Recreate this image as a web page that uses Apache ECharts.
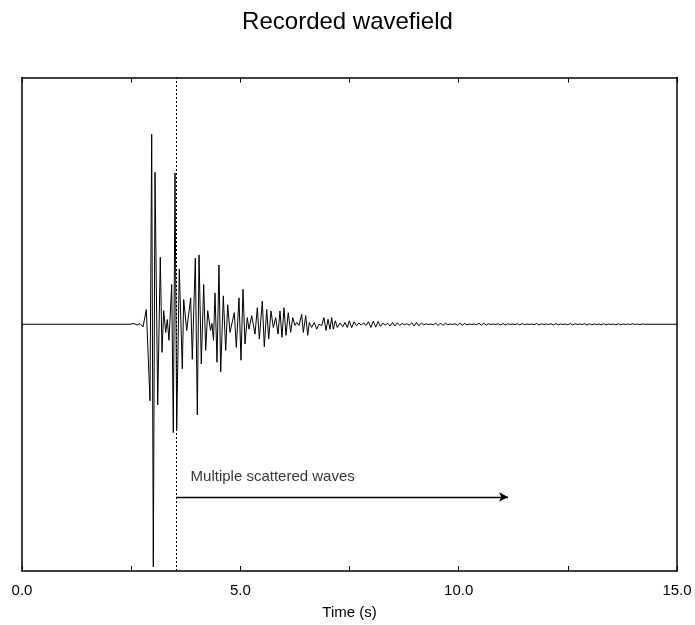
<!DOCTYPE html>
<html><head><meta charset="utf-8">
<script src="https://cdn.jsdelivr.net/npm/echarts@6/dist/echarts.min.js"></script>
<style>html,body{margin:0;padding:0;background:#fff}#c{width:695px;height:625px}</style>
</head><body><div id="c"></div><script>
const titleText = 'Recorded wavefield';
const xName = 'Time (s)';
const xMajorTicks = [0, 5, 10, 15];

// main arrival (time in s, normalised amplitude)
const arrivalTime = [0, 2.473, 2.565, 2.634, 2.702, 2.771, 2.847, 2.931, 2.970, 3.007,
  3.046, 3.108, 3.167, 3.206, 3.245, 3.291, 3.327, 3.366, 3.428, 3.465,
  3.504, 3.543, 3.602, 3.671, 3.703, 3.772, 3.863, 3.900, 3.969, 4.015,
  4.054, 4.106, 4.161, 4.207, 4.253, 4.317, 4.351, 4.385, 4.420, 4.466,
  4.511, 4.550, 4.610, 4.665, 4.711, 4.763, 4.862, 4.908, 4.969, 5.015,
  5.061, 5.107, 5.159, 5.198, 5.260, 5.336, 5.389, 5.435, 5.503, 5.549,
  5.604, 5.650, 5.702, 5.755, 5.810, 5.863, 5.908, 5.954, 6.000, 6.046,
  6.098, 6.153, 6.199, 6.252, 6.291, 6.343, 6.405, 6.442, 6.497, 6.543,
  6.579, 6.634, 6.694, 6.749, 6.801, 6.863, 6.915, 6.961, 7.008, 7.053,
  7.092, 7.129, 7.175, 7.221, 7.282, 7.344, 7.397, 7.450, 7.495];
const arrivalAmp = [0, 0, 0.003, -0.003, 0.003, -0.011, 0.059, -0.310, 0.770, -0.984,
  0.616, -0.327, 0.271, -0.114, 0.055, -0.033, 0.019, -0.065, 0.161, -0.439,
  0.613, -0.427, 0.224, -0.181, 0.100, -0.025, 0.107, -0.142, 0.268, -0.368,
  0.281, -0.161, 0.161, -0.106, 0.055, -0.025, 0.003, -0.065, 0.127, -0.154,
  0.240, -0.194, 0.115, -0.106, 0.079, -0.033, 0.047, -0.094, 0.107, -0.146,
  0.141, -0.080, 0.027, -0.020, 0.035, -0.040, 0.067, -0.060, 0.094, -0.091,
  0.060, -0.060, 0.054, -0.013, 0.027, -0.040, 0.054, -0.053, 0.067, -0.045,
  0.047, -0.033, 0.027, -0.005, 0.007, -0.005, 0.040, -0.033, 0.035, -0.045,
  0.007, -0.013, 0.007, -0.020, 0, -0.005, 0.027, -0.025, 0.020, -0.020,
  0.027, -0.020, 0.014, -0.013, 0.005, -0.010, 0.007, -0.013, 0.014];

// coda tail
const codaTime = [7.55, 7.605, 7.66, 7.715, 7.77, 7.825, 7.88, 7.935, 7.99, 8.045,
  8.10, 8.155, 8.21, 8.265, 8.32, 8.375, 8.43, 8.485, 8.54, 8.595,
  8.65, 8.705, 8.76, 8.815, 8.87, 8.925, 8.98, 9.035, 9.09, 9.145,
  9.20, 9.255, 9.31, 9.365, 9.42, 9.475, 9.53, 9.585, 9.64, 9.695,
  9.75, 9.805, 9.86, 9.915, 9.97, 10.025, 10.08, 10.135, 10.19, 10.245,
  10.30, 10.355, 10.41, 10.465, 10.52, 10.575, 10.63, 10.685, 10.74, 10.795,
  10.85, 10.905, 10.96, 11.015, 11.07, 11.125, 11.18, 11.235, 11.29, 11.345,
  11.40, 11.455, 11.51, 11.565, 11.62, 11.675, 11.73, 11.785, 11.84, 11.895,
  11.95, 12.005, 12.06, 12.115, 12.17, 12.225, 12.28, 12.335, 12.39, 12.445,
  12.50, 12.555, 12.61, 12.665, 12.72, 12.775, 12.83, 12.885, 12.94, 12.995,
  13.05, 13.105, 13.16, 13.215, 13.27, 13.325, 13.38, 13.435, 13.49, 13.545,
  13.60, 13.655, 13.71, 13.765, 13.82, 13.875, 13.93, 13.985, 14.04, 14.095,
  14.15, 14.205, 14.26, 15];
const codaAmp = [-0.014, 0.010, -0.006, 0.005, -0.004, 0.006, -0.005, 0.010, -0.013, 0.013,
  -0.012, 0.011, -0.008, 0.004, -0.003, 0.004, -0.007, 0.007, -0.007, 0.006,
  -0.005, 0.003, -0.002, 0.002, -0.004, 0.006, -0.007, 0.007, -0.006, 0.005,
  -0.003, 0.002, -0.001, 0.001, -0.002, 0.004, -0.005, 0.005, -0.005, 0.004,
  -0.002, 0.001, -0.001, 0.002, -0.004, 0.004, -0.004, 0.003, -0.002, 0.001,
  -0.001, 0.001, -0.002, 0.004, -0.004, 0.004, -0.003, 0.002, -0.001, 0.001,
  -0.001, 0.002, -0.003, 0.003, -0.003, 0.002, -0.001, 0.001, -0.001, 0.002,
  -0.003, 0.003, -0.002, 0.001, -0.001, 0.001, -0.002, 0.003, -0.003, 0.002,
  -0.001, 0.001, -0.001, 0.002, -0.003, 0.003, -0.002, 0.001, -0.001, 0.001,
  -0.002, 0.003, -0.003, 0.002, -0.001, 0.001, -0.001, 0.002, -0.003, 0.002,
  -0.002, 0.001, -0.001, 0.001, -0.002, 0.002, -0.002, 0.001, -0.001, 0.001,
  -0.002, 0.002, -0.002, 0.001, -0.001, 0.001, -0.001, 0.002, -0.001, 0.001,
  -0.001, 0.001, 0, 0];

const markerTime = 3.53;
const annotationText = 'Multiple scattered waves';
const annotationPoint = [3.86, -0.62];
const arrowFrom = [3.53, -0.70];
const arrowTo = [11.13, -0.70];

const allTime = arrivalTime.concat(codaTime);
const allAmp = arrivalAmp.concat(codaAmp);
const wave = allTime.map((t, i) => [t, allAmp[i]]);

const font = '"Liberation Sans", Arial, Helvetica, sans-serif';
const lineStyleAxis = { color: '#000', width: 1.5 };

const chart = echarts.init(document.getElementById('c'), null, { renderer: 'canvas' });
chart.setOption({
  animation: false,
  backgroundColor: '#fff',
  title: {
    text: titleText, left: 'center', top: 5,
    textStyle: { fontFamily: font, fontSize: 24, fontWeight: 'normal', color: '#000' }
  },
  grid: { left: 22, right: 18, top: 77.5, bottom: 49 },
  xAxis: [{
    type: 'value', min: 0, max: 15, interval: 2.5, position: 'bottom',
    name: xName, nameLocation: 'middle', nameGap: 34,
    nameTextStyle: { fontFamily: font, fontSize: 15, color: '#000' },
    axisLine: { show: true, onZero: false, lineStyle: lineStyleAxis },
    axisTick: { show: true, inside: true, length: 5, lineStyle: { color: '#000', width: 1 } },
    axisLabel: {
      show: true, margin: 12, fontFamily: font, fontSize: 15, color: '#000',
      formatter: v => xMajorTicks.includes(v) ? v.toFixed(1) : ''
    },
    splitLine: { show: false }
  }, {
    type: 'value', min: 0, max: 15, interval: 2.5, position: 'top',
    axisLine: { show: true, onZero: false, lineStyle: lineStyleAxis },
    axisTick: { show: true, inside: true, length: 5, lineStyle: { color: '#000', width: 1 } },
    axisLabel: { show: false }, splitLine: { show: false }
  }],
  yAxis: [{
    type: 'value', min: -1, max: 1, position: 'left',
    axisLine: { show: true, onZero: false, lineStyle: lineStyleAxis },
    axisTick: { show: false }, axisLabel: { show: false }, splitLine: { show: false }
  }, {
    type: 'value', min: -1, max: 1, position: 'right',
    axisLine: { show: true, onZero: false, lineStyle: lineStyleAxis },
    axisTick: { show: false }, axisLabel: { show: false }, splitLine: { show: false }
  }],
  series: [{
    type: 'line', data: wave, showSymbol: false, symbol: 'none',
    lineStyle: { color: '#000', width: 1 }, z: 3,
    markLine: {
      silent: true, symbol: ['none', 'none'], label: { show: false },
      lineStyle: { color: '#000', width: 1, type: [2, 2] },
      data: [{ xAxis: markerTime }]
    }
  }, {
    type: 'scatter', data: [annotationPoint], symbolSize: 0, silent: true,
    label: {
      show: true, position: 'right', distance: 0, formatter: annotationText,
      fontFamily: font, fontSize: 15, color: '#000'
    },
    markLine: {
      silent: true, symbol: ['none', 'arrow'], symbolSize: [7, 9],
      label: { show: false },
      lineStyle: { color: '#000', width: 1.3, type: 'solid' },
      data: [[{ coord: arrowFrom }, { coord: arrowTo }]]
    }
  }]
});
</script></body></html>
